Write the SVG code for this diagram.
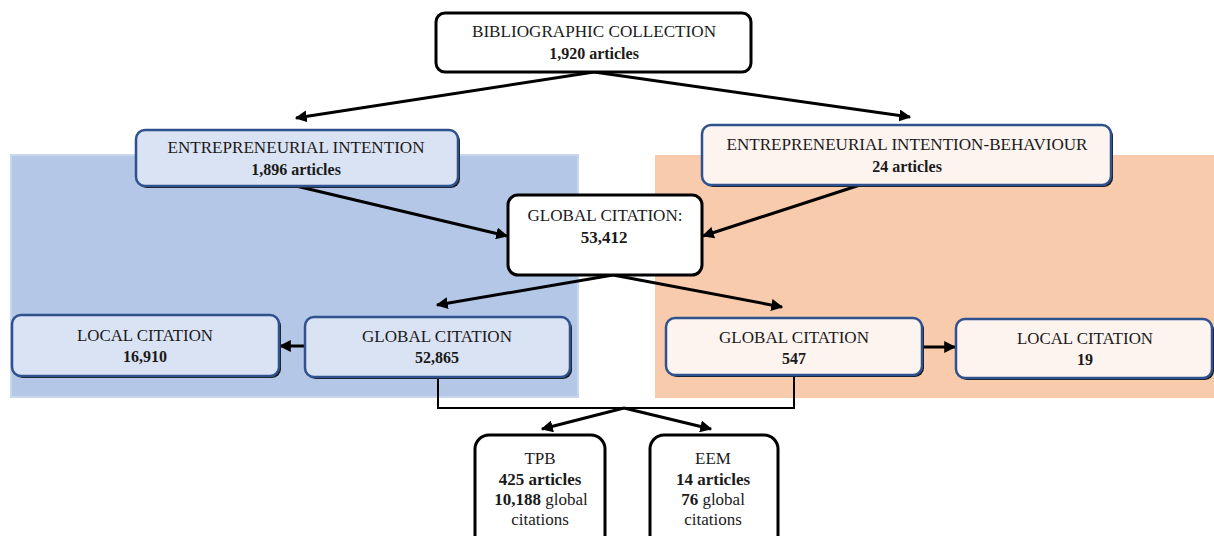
<svg xmlns="http://www.w3.org/2000/svg" width="1214" height="536" viewBox="0 0 1214 536">
<defs>
<marker id="ah" viewBox="0 0 10 10" refX="9" refY="5" markerWidth="4" markerHeight="4" orient="auto" markerUnits="strokeWidth">
<path d="M0,0 L10,5 L0,10 z" fill="#000"/>
</marker>
<style>
text{font-family:"Liberation Serif","Times New Roman",serif;font-size:16px;fill:#1a1a1a;text-anchor:middle}
.b{font-weight:bold}
.big{font-size:17px}
.wbox{fill:#fff;stroke:#000;stroke-width:3}
.bbox{fill:#dae3f3;stroke:#2f528f;stroke-width:2.5}
.obox{fill:#fdf3ef;stroke:#2f528f;stroke-width:2.5}
.sh{fill:#1a1a1a}
.con{stroke:#000;stroke-width:3;fill:none}
.thin{stroke:#000;stroke-width:2;fill:none}
</style>
</defs>
<rect x="11" y="155" width="567" height="242" fill="#b4c7e7" stroke="#c8d6ee" stroke-width="2"/>
<rect x="655" y="155" width="559" height="243" fill="#f8cbad"/>

<g id="connectors">
<line class="con" x1="594" y1="72" x2="296" y2="118" marker-end="url(#ah)"/>
<line class="con" x1="594" y1="72" x2="910" y2="117" marker-end="url(#ah)"/>
<line class="con" x1="296" y1="186" x2="507" y2="236" marker-end="url(#ah)"/>
<line class="con" x1="860" y1="185" x2="703" y2="236" marker-end="url(#ah)"/>
<line class="con" x1="613" y1="275" x2="437" y2="305" marker-end="url(#ah)"/>
<line class="con" x1="613" y1="275" x2="782" y2="307" marker-end="url(#ah)"/>
<line class="con" x1="305" y1="346" x2="280" y2="346" marker-end="url(#ah)"/>
<line class="con" x1="922" y1="347" x2="955" y2="347" marker-end="url(#ah)"/>
<polyline class="thin" points="438,377 438,408 794,408 794,376"/>
<line class="con" x1="624" y1="408" x2="542" y2="429" marker-end="url(#ah)"/>
<line class="con" x1="624" y1="408" x2="711" y2="429" marker-end="url(#ah)"/>
</g>

<g id="bib">
<rect class="wbox" x="436" y="13" width="315" height="59" rx="9"/>
<text x="594" y="37" textLength="244" lengthAdjust="spacingAndGlyphs">BIBLIOGRAPHIC  COLLECTION</text>
<text class="b" x="594" y="59">1,920 articles</text>
</g>

<g id="ei">
<rect class="sh" x="138" y="132" width="322" height="56" rx="9"/>
<rect class="bbox" x="136" y="130" width="322" height="56" rx="9"/>
<text x="296" y="153" textLength="257" lengthAdjust="spacingAndGlyphs">ENTREPRENEURIAL  INTENTION</text>
<text class="b" x="296" y="175">1,896 articles</text>
</g>

<g id="eib">
<rect class="sh" x="704" y="127" width="409" height="60" rx="9"/>
<rect class="obox" x="702" y="125" width="409" height="60" rx="9"/>
<text x="907" y="150" textLength="361" lengthAdjust="spacingAndGlyphs">ENTREPRENEURIAL  INTENTION-BEHAVIOUR</text>
<text class="b" x="907" y="172">24 articles</text>
</g>

<g id="gc">
<rect class="wbox" x="508" y="195" width="194" height="80" rx="10"/>
<text x="605" y="221" textLength="155" lengthAdjust="spacingAndGlyphs">GLOBAL CITATION:</text>
<text class="b big" x="604" y="243">53,412</text>
</g>

<g id="lc-left">
<rect class="sh" x="14" y="317" width="267" height="61" rx="9"/>
<rect class="bbox" x="12" y="315" width="267" height="61" rx="9"/>
<text x="145" y="341" textLength="136" lengthAdjust="spacingAndGlyphs">LOCAL CITATION</text>
<text class="b" x="145" y="362">16,910</text>
</g>

<g id="gc-left">
<rect class="sh" x="307" y="319" width="265" height="60" rx="9"/>
<rect class="bbox" x="305" y="317" width="265" height="60" rx="9"/>
<text x="437" y="342" textLength="150" lengthAdjust="spacingAndGlyphs">GLOBAL CITATION</text>
<text class="b" x="437" y="363">52,865</text>
</g>

<g id="gc-right">
<rect class="sh" x="668" y="320" width="256" height="57" rx="9"/>
<rect class="obox" x="666" y="318" width="256" height="57" rx="9"/>
<text x="794" y="343" textLength="150" lengthAdjust="spacingAndGlyphs">GLOBAL CITATION</text>
<text class="b" x="794" y="364">547</text>
</g>

<g id="lc-right">
<rect class="sh" x="958" y="321" width="256" height="59" rx="9"/>
<rect class="obox" x="956" y="319" width="256" height="59" rx="9"/>
<text x="1085" y="344" textLength="136" lengthAdjust="spacingAndGlyphs">LOCAL CITATION</text>
<text class="b" x="1085" y="365">19</text>
</g>

<g id="tpb">
<rect class="wbox" x="475" y="435" width="130" height="115" rx="14"/>
<text class="big" x="540" y="464">TPB</text>
<text class="b big" x="540" y="485">425 articles</text>
<text class="big" x="541" y="505"><tspan class="b">10,188</tspan> global</text>
<text class="big" x="540" y="525">citations</text>
</g>

<g id="eem">
<rect class="wbox" x="650" y="435" width="128" height="115" rx="14"/>
<text class="big" x="713" y="464">EEM</text>
<text class="b big" x="713" y="485">14 articles</text>
<text class="big" x="713" y="505"><tspan class="b">76</tspan> global</text>
<text class="big" x="713" y="525">citations</text>
</g>
</svg>
